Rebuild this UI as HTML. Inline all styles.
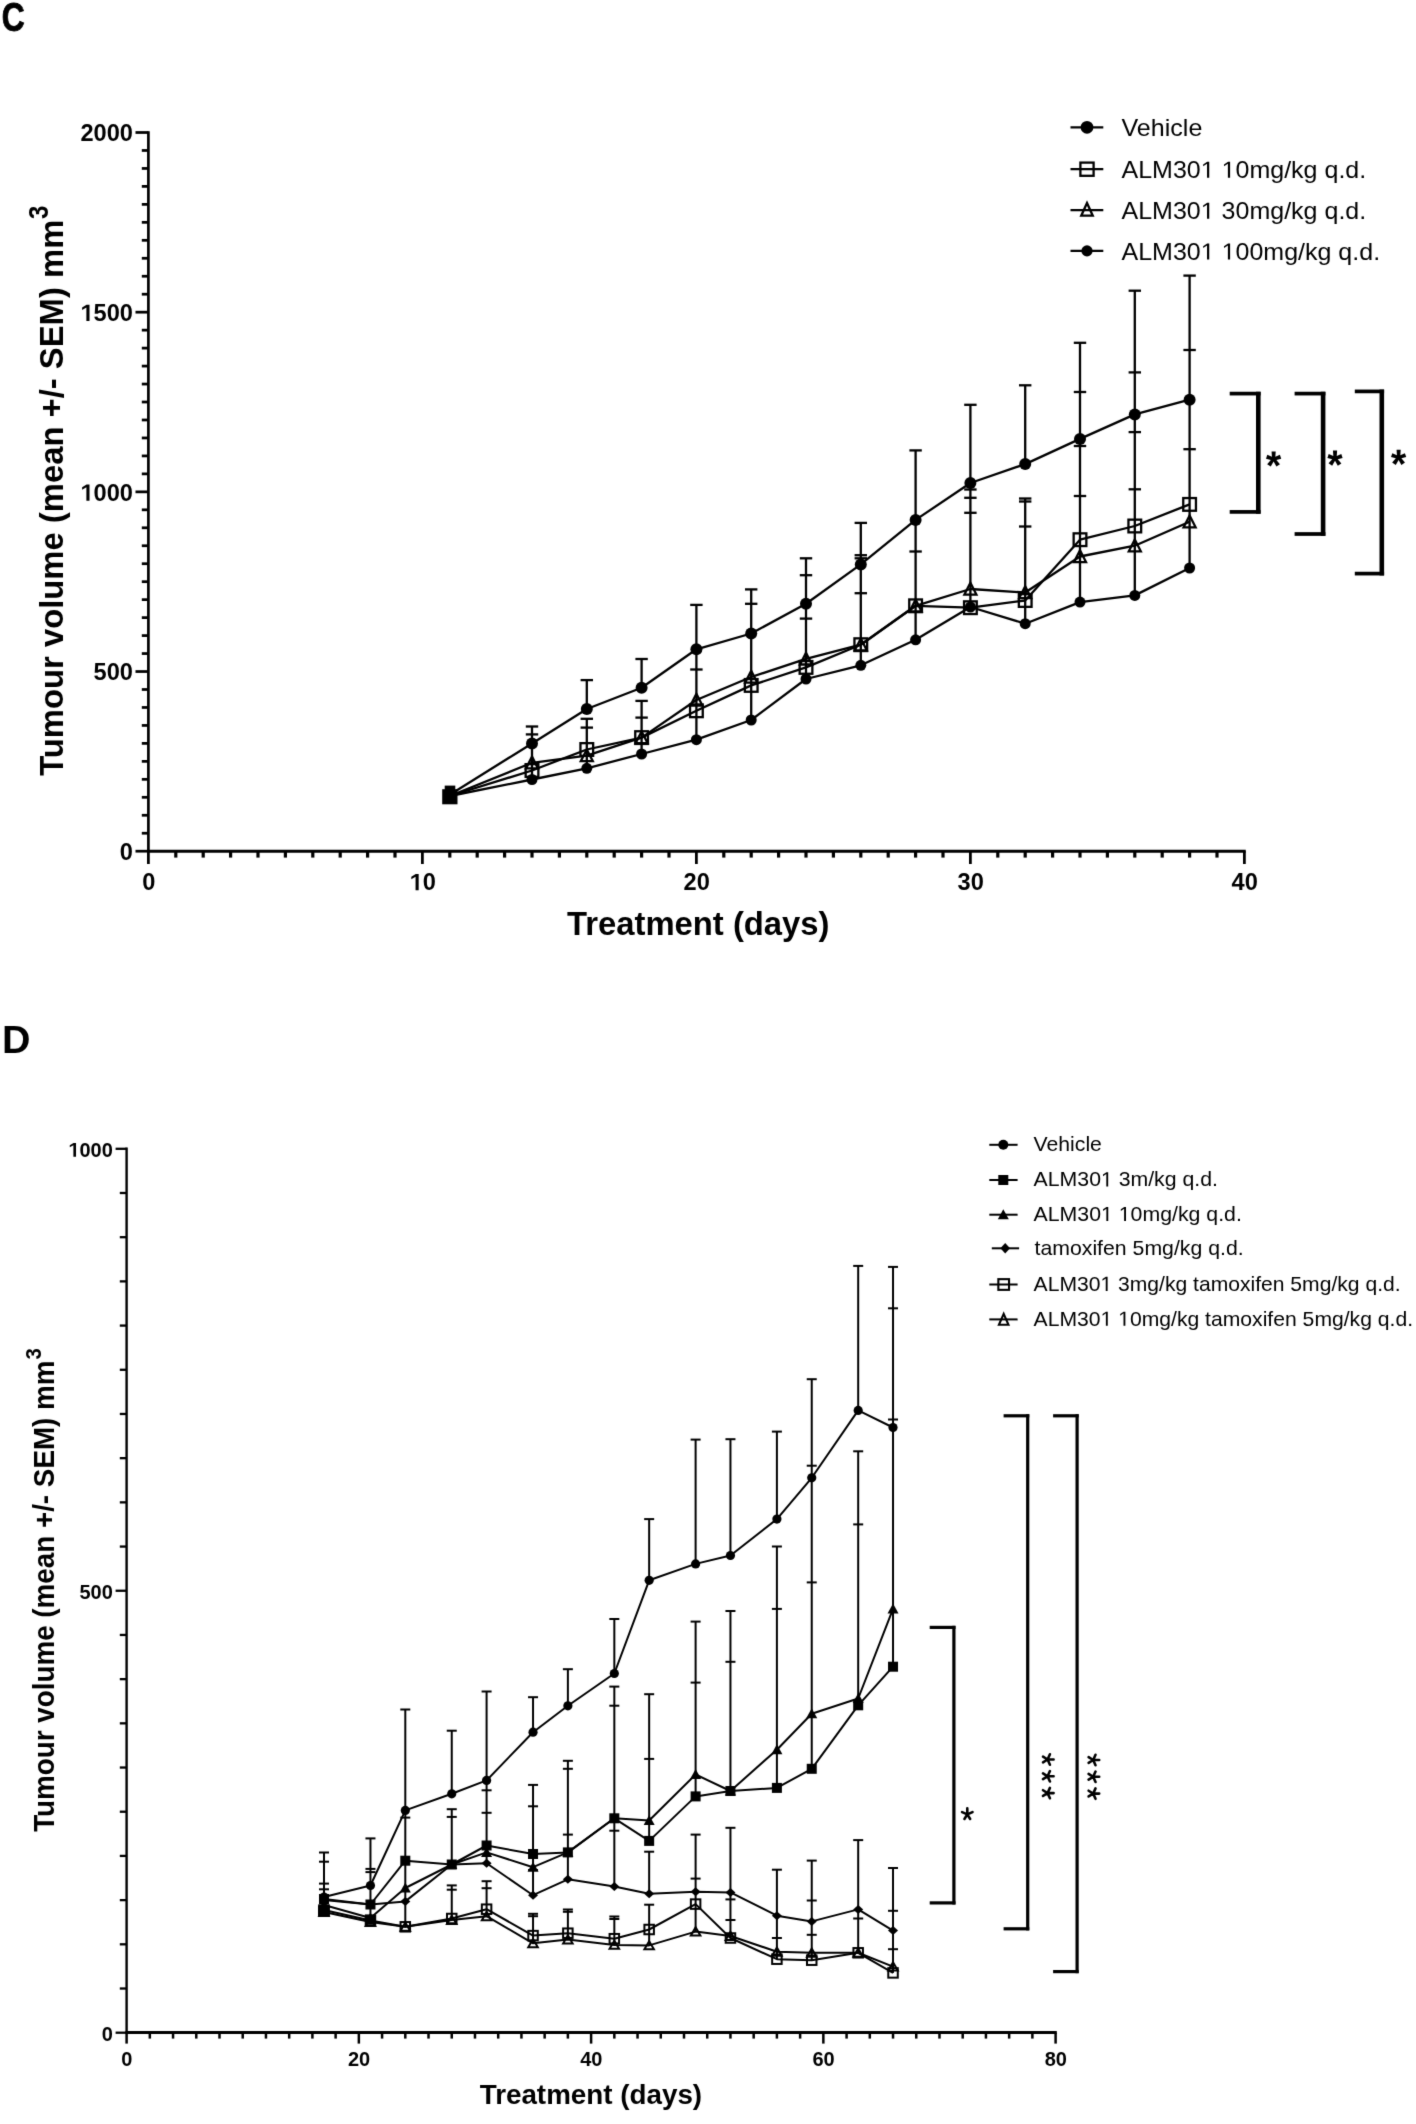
<!DOCTYPE html>
<html><head><meta charset="utf-8"><title>Tumour volume charts</title>
<style>html,body{margin:0;padding:0;background:#fff;}body{width:1416px;height:2124px;overflow:hidden;}svg{display:block;filter:grayscale(1);}text{font-family:"Liberation Sans",sans-serif;}</style>
</head><body>
<svg width="1416" height="2124" viewBox="0 0 1416 2124" font-family="Liberation Sans, sans-serif">
<defs><filter id="soft" x="0" y="0" width="1416" height="2124" filterUnits="userSpaceOnUse" color-interpolation-filters="sRGB"><feConvolveMatrix order="3" kernelMatrix="0.01134 0.08382 0.01134 0.08382 0.6194 0.08382 0.01134 0.08382 0.01134" divisor="1" edgeMode="duplicate" preserveAlpha="true"/></filter></defs>
<g filter="url(#soft)">
<rect width="1416" height="2124" fill="#fff"/>
<g stroke="#000" fill="none">
<line x1="148.4" y1="131.15" x2="148.4" y2="851.2" stroke-width="2.7"/>
<line x1="147.05" y1="851.2" x2="1245.75" y2="851.2" stroke-width="2.95"/>
<line x1="135.5" y1="851.2" x2="148.4" y2="851.2" stroke-width="2.75"/>
<line x1="141.8" y1="833.23" x2="148.4" y2="833.23" stroke-width="2.75"/>
<line x1="141.8" y1="815.27" x2="148.4" y2="815.27" stroke-width="2.75"/>
<line x1="141.8" y1="797.3" x2="148.4" y2="797.3" stroke-width="2.75"/>
<line x1="141.8" y1="779.33" x2="148.4" y2="779.33" stroke-width="2.75"/>
<line x1="141.8" y1="761.36" x2="148.4" y2="761.36" stroke-width="2.75"/>
<line x1="141.8" y1="743.39" x2="148.4" y2="743.39" stroke-width="2.75"/>
<line x1="141.8" y1="725.43" x2="148.4" y2="725.43" stroke-width="2.75"/>
<line x1="141.8" y1="707.46" x2="148.4" y2="707.46" stroke-width="2.75"/>
<line x1="141.8" y1="689.49" x2="148.4" y2="689.49" stroke-width="2.75"/>
<line x1="135.5" y1="671.53" x2="148.4" y2="671.53" stroke-width="2.75"/>
<line x1="141.8" y1="653.56" x2="148.4" y2="653.56" stroke-width="2.75"/>
<line x1="141.8" y1="635.59" x2="148.4" y2="635.59" stroke-width="2.75"/>
<line x1="141.8" y1="617.62" x2="148.4" y2="617.62" stroke-width="2.75"/>
<line x1="141.8" y1="599.65" x2="148.4" y2="599.65" stroke-width="2.75"/>
<line x1="141.8" y1="581.69" x2="148.4" y2="581.69" stroke-width="2.75"/>
<line x1="141.8" y1="563.72" x2="148.4" y2="563.72" stroke-width="2.75"/>
<line x1="141.8" y1="545.75" x2="148.4" y2="545.75" stroke-width="2.75"/>
<line x1="141.8" y1="527.79" x2="148.4" y2="527.79" stroke-width="2.75"/>
<line x1="141.8" y1="509.82" x2="148.4" y2="509.82" stroke-width="2.75"/>
<line x1="135.5" y1="491.85" x2="148.4" y2="491.85" stroke-width="2.75"/>
<line x1="141.8" y1="473.88" x2="148.4" y2="473.88" stroke-width="2.75"/>
<line x1="141.8" y1="455.92" x2="148.4" y2="455.92" stroke-width="2.75"/>
<line x1="141.8" y1="437.95" x2="148.4" y2="437.95" stroke-width="2.75"/>
<line x1="141.8" y1="419.98" x2="148.4" y2="419.98" stroke-width="2.75"/>
<line x1="141.8" y1="402.01" x2="148.4" y2="402.01" stroke-width="2.75"/>
<line x1="141.8" y1="384.05" x2="148.4" y2="384.05" stroke-width="2.75"/>
<line x1="141.8" y1="366.08" x2="148.4" y2="366.08" stroke-width="2.75"/>
<line x1="141.8" y1="348.11" x2="148.4" y2="348.11" stroke-width="2.75"/>
<line x1="141.8" y1="330.14" x2="148.4" y2="330.14" stroke-width="2.75"/>
<line x1="135.5" y1="312.18" x2="148.4" y2="312.18" stroke-width="2.75"/>
<line x1="141.8" y1="294.21" x2="148.4" y2="294.21" stroke-width="2.75"/>
<line x1="141.8" y1="276.24" x2="148.4" y2="276.24" stroke-width="2.75"/>
<line x1="141.8" y1="258.27" x2="148.4" y2="258.27" stroke-width="2.75"/>
<line x1="141.8" y1="240.31" x2="148.4" y2="240.31" stroke-width="2.75"/>
<line x1="141.8" y1="222.34" x2="148.4" y2="222.34" stroke-width="2.75"/>
<line x1="141.8" y1="204.37" x2="148.4" y2="204.37" stroke-width="2.75"/>
<line x1="141.8" y1="186.4" x2="148.4" y2="186.4" stroke-width="2.75"/>
<line x1="141.8" y1="168.44" x2="148.4" y2="168.44" stroke-width="2.75"/>
<line x1="141.8" y1="150.47" x2="148.4" y2="150.47" stroke-width="2.75"/>
<line x1="135.5" y1="132.5" x2="148.4" y2="132.5" stroke-width="2.75"/>
<line x1="148.4" y1="851.2" x2="148.4" y2="864" stroke-width="2.75"/>
<line x1="175.8" y1="851.2" x2="175.8" y2="857.6" stroke-width="3.2"/>
<line x1="203.2" y1="851.2" x2="203.2" y2="857.6" stroke-width="3.2"/>
<line x1="230.6" y1="851.2" x2="230.6" y2="857.6" stroke-width="3.2"/>
<line x1="258" y1="851.2" x2="258" y2="857.6" stroke-width="3.2"/>
<line x1="285.4" y1="851.2" x2="285.4" y2="857.6" stroke-width="3.2"/>
<line x1="312.8" y1="851.2" x2="312.8" y2="857.6" stroke-width="3.2"/>
<line x1="340.2" y1="851.2" x2="340.2" y2="857.6" stroke-width="3.2"/>
<line x1="367.6" y1="851.2" x2="367.6" y2="857.6" stroke-width="3.2"/>
<line x1="395" y1="851.2" x2="395" y2="857.6" stroke-width="3.2"/>
<line x1="422.4" y1="851.2" x2="422.4" y2="864" stroke-width="2.75"/>
<line x1="449.8" y1="851.2" x2="449.8" y2="857.6" stroke-width="3.2"/>
<line x1="477.2" y1="851.2" x2="477.2" y2="857.6" stroke-width="3.2"/>
<line x1="504.6" y1="851.2" x2="504.6" y2="857.6" stroke-width="3.2"/>
<line x1="532" y1="851.2" x2="532" y2="857.6" stroke-width="3.2"/>
<line x1="559.4" y1="851.2" x2="559.4" y2="857.6" stroke-width="3.2"/>
<line x1="586.8" y1="851.2" x2="586.8" y2="857.6" stroke-width="3.2"/>
<line x1="614.2" y1="851.2" x2="614.2" y2="857.6" stroke-width="3.2"/>
<line x1="641.6" y1="851.2" x2="641.6" y2="857.6" stroke-width="3.2"/>
<line x1="669" y1="851.2" x2="669" y2="857.6" stroke-width="3.2"/>
<line x1="696.4" y1="851.2" x2="696.4" y2="864" stroke-width="2.75"/>
<line x1="723.8" y1="851.2" x2="723.8" y2="857.6" stroke-width="3.2"/>
<line x1="751.2" y1="851.2" x2="751.2" y2="857.6" stroke-width="3.2"/>
<line x1="778.6" y1="851.2" x2="778.6" y2="857.6" stroke-width="3.2"/>
<line x1="806" y1="851.2" x2="806" y2="857.6" stroke-width="3.2"/>
<line x1="833.4" y1="851.2" x2="833.4" y2="857.6" stroke-width="3.2"/>
<line x1="860.8" y1="851.2" x2="860.8" y2="857.6" stroke-width="3.2"/>
<line x1="888.2" y1="851.2" x2="888.2" y2="857.6" stroke-width="3.2"/>
<line x1="915.6" y1="851.2" x2="915.6" y2="857.6" stroke-width="3.2"/>
<line x1="943" y1="851.2" x2="943" y2="857.6" stroke-width="3.2"/>
<line x1="970.4" y1="851.2" x2="970.4" y2="864" stroke-width="2.75"/>
<line x1="997.8" y1="851.2" x2="997.8" y2="857.6" stroke-width="3.2"/>
<line x1="1025.2" y1="851.2" x2="1025.2" y2="857.6" stroke-width="3.2"/>
<line x1="1052.6" y1="851.2" x2="1052.6" y2="857.6" stroke-width="3.2"/>
<line x1="1080" y1="851.2" x2="1080" y2="857.6" stroke-width="3.2"/>
<line x1="1107.4" y1="851.2" x2="1107.4" y2="857.6" stroke-width="3.2"/>
<line x1="1134.8" y1="851.2" x2="1134.8" y2="857.6" stroke-width="3.2"/>
<line x1="1162.2" y1="851.2" x2="1162.2" y2="857.6" stroke-width="3.2"/>
<line x1="1189.6" y1="851.2" x2="1189.6" y2="857.6" stroke-width="3.2"/>
<line x1="1217" y1="851.2" x2="1217" y2="857.6" stroke-width="3.2"/>
<line x1="1244.4" y1="851.2" x2="1244.4" y2="864" stroke-width="2.75"/>
</g>
<g fill="#000">
<text x="132.9" y="860.1" font-size="23.6" font-weight="bold" text-anchor="end">0</text>
<text x="132.9" y="680.43" font-size="23.6" font-weight="bold" text-anchor="end">500</text>
<text x="132.9" y="500.75" font-size="23.6" font-weight="bold" text-anchor="end"> 000</text><path transform="translate(80.4,500.75) scale(0.01152,-0.01152)" d="M520,0L520,1170L150,959L150,1180L535,1409L790,1409L790,0Z"/>
<text x="132.9" y="321.08" font-size="23.6" font-weight="bold" text-anchor="end"> 500</text><path transform="translate(80.4,321.08) scale(0.01152,-0.01152)" d="M520,0L520,1170L150,959L150,1180L535,1409L790,1409L790,0Z"/>
<text x="132.9" y="141.4" font-size="23.6" font-weight="bold" text-anchor="end">2000</text>
<text x="148.7" y="890.3" font-size="23.6" font-weight="bold" text-anchor="middle">0</text>
<text x="422.7" y="890.3" font-size="23.6" font-weight="bold" text-anchor="middle"> 0</text><path transform="translate(409.57,890.3) scale(0.01152,-0.01152)" d="M520,0L520,1170L150,959L150,1180L535,1409L790,1409L790,0Z"/>
<text x="696.7" y="890.3" font-size="23.6" font-weight="bold" text-anchor="middle">20</text>
<text x="970.7" y="890.3" font-size="23.6" font-weight="bold" text-anchor="middle">30</text>
<text x="1244.7" y="890.3" font-size="23.6" font-weight="bold" text-anchor="middle">40</text>
<text x="567" y="935" font-size="33" font-weight="bold" textLength="262.5" lengthAdjust="spacingAndGlyphs">Treatment (days)</text>
<text transform="translate(62.8,775.8) rotate(-90)" font-size="33.5" font-weight="bold" textLength="556.1" lengthAdjust="spacingAndGlyphs">Tumour volume (mean +/- SEM) mm</text>
<text transform="translate(47.8,219) rotate(-90)" font-size="26.8" font-weight="bold" textLength="13.41" lengthAdjust="spacingAndGlyphs">3</text>
<text stroke="#000" stroke-width="0.9" x="1.7" y="30.8" font-size="40.2" font-weight="bold" textLength="22.93" lengthAdjust="spacingAndGlyphs">C</text>
<text x="1.9" y="1053" font-size="39.4" font-weight="bold">D</text>
</g>
<g stroke="#000" stroke-width="2.3" fill="none" stroke-linecap="butt">
<line x1="532" y1="726.5" x2="532" y2="779.5"/>
<line x1="525.8" y1="726.5" x2="538.2" y2="726.5"/>
<line x1="525.8" y1="734.4" x2="538.2" y2="734.4"/>
<line x1="586.8" y1="680.1" x2="586.8" y2="709"/>
<line x1="586.8" y1="718.8" x2="586.8" y2="768.3"/>
<line x1="580.6" y1="680.1" x2="593" y2="680.1"/>
<line x1="580.6" y1="718.8" x2="593" y2="718.8"/>
<line x1="580.6" y1="727.6" x2="593" y2="727.6"/>
<line x1="641.6" y1="659" x2="641.6" y2="687.8"/>
<line x1="641.6" y1="700.9" x2="641.6" y2="754"/>
<line x1="635.4" y1="659" x2="647.8" y2="659"/>
<line x1="635.4" y1="700.9" x2="647.8" y2="700.9"/>
<line x1="635.4" y1="717.6" x2="647.8" y2="717.6"/>
<line x1="696.4" y1="604.9" x2="696.4" y2="739.7"/>
<line x1="690.2" y1="604.9" x2="702.6" y2="604.9"/>
<line x1="690.2" y1="669.5" x2="702.6" y2="669.5"/>
<line x1="751.2" y1="589.4" x2="751.2" y2="720"/>
<line x1="745" y1="589.4" x2="757.4" y2="589.4"/>
<line x1="745" y1="603.8" x2="757.4" y2="603.8"/>
<line x1="806" y1="558.3" x2="806" y2="679"/>
<line x1="799.8" y1="558.3" x2="812.2" y2="558.3"/>
<line x1="799.8" y1="575.2" x2="812.2" y2="575.2"/>
<line x1="799.8" y1="618.6" x2="812.2" y2="618.6"/>
<line x1="860.8" y1="522.9" x2="860.8" y2="665.3"/>
<line x1="854.6" y1="522.9" x2="867" y2="522.9"/>
<line x1="854.6" y1="555.2" x2="867" y2="555.2"/>
<line x1="854.6" y1="558.3" x2="867" y2="558.3"/>
<line x1="854.6" y1="593.2" x2="867" y2="593.2"/>
<line x1="915.6" y1="450.4" x2="915.6" y2="639.8"/>
<line x1="909.4" y1="450.4" x2="921.8" y2="450.4"/>
<line x1="909.4" y1="551.5" x2="921.8" y2="551.5"/>
<line x1="970.4" y1="404.8" x2="970.4" y2="607.7"/>
<line x1="964.2" y1="404.8" x2="976.6" y2="404.8"/>
<line x1="964.2" y1="489.5" x2="976.6" y2="489.5"/>
<line x1="964.2" y1="497.8" x2="976.6" y2="497.8"/>
<line x1="964.2" y1="512.8" x2="976.6" y2="512.8"/>
<line x1="1025.2" y1="385.3" x2="1025.2" y2="464.1"/>
<line x1="1025.2" y1="498.5" x2="1025.2" y2="623.7"/>
<line x1="1019" y1="385.3" x2="1031.4" y2="385.3"/>
<line x1="1019" y1="498.5" x2="1031.4" y2="498.5"/>
<line x1="1019" y1="501.5" x2="1031.4" y2="501.5"/>
<line x1="1019" y1="526.5" x2="1031.4" y2="526.5"/>
<line x1="1080" y1="342.8" x2="1080" y2="602.1"/>
<line x1="1073.8" y1="342.8" x2="1086.2" y2="342.8"/>
<line x1="1073.8" y1="392" x2="1086.2" y2="392"/>
<line x1="1073.8" y1="446" x2="1086.2" y2="446"/>
<line x1="1073.8" y1="496" x2="1086.2" y2="496"/>
<line x1="1134.8" y1="290.7" x2="1134.8" y2="595.4"/>
<line x1="1128.6" y1="290.7" x2="1141" y2="290.7"/>
<line x1="1128.6" y1="372.4" x2="1141" y2="372.4"/>
<line x1="1128.6" y1="432.1" x2="1141" y2="432.1"/>
<line x1="1128.6" y1="489.3" x2="1141" y2="489.3"/>
<line x1="1189.6" y1="275.6" x2="1189.6" y2="568"/>
<line x1="1183.4" y1="275.6" x2="1195.8" y2="275.6"/>
<line x1="1183.4" y1="350" x2="1195.8" y2="350"/>
<line x1="1183.4" y1="449.2" x2="1195.8" y2="449.2"/>
</g>
<g stroke="#000" stroke-width="2.3" fill="none" stroke-linejoin="round">
<polyline points="449.8,794.8 532,743.5 586.8,709 641.6,687.8 696.4,649.3 751.2,633.5 806,603.8 860.8,564.4 915.6,519.9 970.4,483 1025.2,464.1 1080,438.9 1134.8,414.4 1189.6,399.7"/>
<polyline points="449.8,796 532,770.5 586.8,749.5 641.6,737.6 696.4,710.8 751.2,685.4 806,667.4 860.8,644.7 915.6,605.8 970.4,607.7 1025.2,600.5 1080,539.7 1134.8,526 1189.6,504.4"/>
<polyline points="449.8,796 532,762.8 586.8,755.6 641.6,737.6 696.4,700 751.2,677 806,658.9 860.8,644.7 915.6,605.8 970.4,589 1025.2,592.5 1080,556.5 1134.8,545.7 1189.6,521.7"/>
<polyline points="449.8,796 532,779.5 586.8,768.3 641.6,754 696.4,739.7 751.2,720 806,679 860.8,665.3 915.6,639.8 970.4,607 1025.2,623.7 1080,602.1 1134.8,595.4 1189.6,568"/>
</g>
<rect x="442.2" y="789.2" width="15.3" height="15.1" fill="#000"/>
<rect x="444.7" y="785.6" width="10.6" height="5" fill="#000"/>
<rect x="525.65" y="764.15" width="12.7" height="12.7" fill="none" stroke="#000" stroke-width="2.3"/>
<polygon points="532,756.62 538,768.4 526,768.4" fill="none" stroke="#000" stroke-width="2.3" stroke-linejoin="miter"/>
<circle cx="532" cy="779.5" r="5.5" fill="#000"/>
<circle cx="532" cy="743.5" r="6.0" fill="#000"/>
<rect x="580.45" y="743.15" width="12.7" height="12.7" fill="none" stroke="#000" stroke-width="2.3"/>
<polygon points="586.8,749.42 592.8,761.2 580.8,761.2" fill="none" stroke="#000" stroke-width="2.3" stroke-linejoin="miter"/>
<circle cx="586.8" cy="768.3" r="5.5" fill="#000"/>
<circle cx="586.8" cy="709" r="6.0" fill="#000"/>
<rect x="635.25" y="731.25" width="12.7" height="12.7" fill="none" stroke="#000" stroke-width="2.3"/>
<polygon points="641.6,731.42 647.6,743.2 635.6,743.2" fill="none" stroke="#000" stroke-width="2.3" stroke-linejoin="miter"/>
<circle cx="641.6" cy="754" r="5.5" fill="#000"/>
<circle cx="641.6" cy="687.8" r="6.0" fill="#000"/>
<rect x="690.05" y="704.45" width="12.7" height="12.7" fill="none" stroke="#000" stroke-width="2.3"/>
<polygon points="696.4,693.82 702.4,705.6 690.4,705.6" fill="none" stroke="#000" stroke-width="2.3" stroke-linejoin="miter"/>
<circle cx="696.4" cy="739.7" r="5.5" fill="#000"/>
<circle cx="696.4" cy="649.3" r="6.0" fill="#000"/>
<rect x="744.85" y="679.05" width="12.7" height="12.7" fill="none" stroke="#000" stroke-width="2.3"/>
<polygon points="751.2,670.82 757.2,682.6 745.2,682.6" fill="none" stroke="#000" stroke-width="2.3" stroke-linejoin="miter"/>
<circle cx="751.2" cy="720" r="5.5" fill="#000"/>
<circle cx="751.2" cy="633.5" r="6.0" fill="#000"/>
<rect x="799.65" y="661.05" width="12.7" height="12.7" fill="none" stroke="#000" stroke-width="2.3"/>
<polygon points="806,652.72 812,664.5 800,664.5" fill="none" stroke="#000" stroke-width="2.3" stroke-linejoin="miter"/>
<circle cx="806" cy="679" r="5.5" fill="#000"/>
<circle cx="806" cy="603.8" r="6.0" fill="#000"/>
<rect x="854.45" y="638.35" width="12.7" height="12.7" fill="none" stroke="#000" stroke-width="2.3"/>
<polygon points="860.8,638.52 866.8,650.3 854.8,650.3" fill="none" stroke="#000" stroke-width="2.3" stroke-linejoin="miter"/>
<circle cx="860.8" cy="665.3" r="5.5" fill="#000"/>
<circle cx="860.8" cy="564.4" r="6.0" fill="#000"/>
<rect x="909.25" y="599.45" width="12.7" height="12.7" fill="none" stroke="#000" stroke-width="2.3"/>
<polygon points="915.6,599.62 921.6,611.4 909.6,611.4" fill="none" stroke="#000" stroke-width="2.3" stroke-linejoin="miter"/>
<circle cx="915.6" cy="639.8" r="5.5" fill="#000"/>
<circle cx="915.6" cy="519.9" r="6.0" fill="#000"/>
<rect x="964.05" y="601.35" width="12.7" height="12.7" fill="none" stroke="#000" stroke-width="2.3"/>
<polygon points="970.4,582.82 976.4,594.6 964.4,594.6" fill="none" stroke="#000" stroke-width="2.3" stroke-linejoin="miter"/>
<circle cx="970.4" cy="607" r="5.5" fill="#000"/>
<circle cx="970.4" cy="483" r="6.0" fill="#000"/>
<rect x="1018.85" y="594.15" width="12.7" height="12.7" fill="none" stroke="#000" stroke-width="2.3"/>
<polygon points="1025.2,586.32 1031.2,598.1 1019.2,598.1" fill="none" stroke="#000" stroke-width="2.3" stroke-linejoin="miter"/>
<circle cx="1025.2" cy="623.7" r="5.5" fill="#000"/>
<circle cx="1025.2" cy="464.1" r="6.0" fill="#000"/>
<rect x="1073.65" y="533.35" width="12.7" height="12.7" fill="none" stroke="#000" stroke-width="2.3"/>
<polygon points="1080,550.32 1086,562.1 1074,562.1" fill="none" stroke="#000" stroke-width="2.3" stroke-linejoin="miter"/>
<circle cx="1080" cy="602.1" r="5.5" fill="#000"/>
<circle cx="1080" cy="438.9" r="6.0" fill="#000"/>
<rect x="1128.45" y="519.65" width="12.7" height="12.7" fill="none" stroke="#000" stroke-width="2.3"/>
<polygon points="1134.8,539.52 1140.8,551.3 1128.8,551.3" fill="none" stroke="#000" stroke-width="2.3" stroke-linejoin="miter"/>
<circle cx="1134.8" cy="595.4" r="5.5" fill="#000"/>
<circle cx="1134.8" cy="414.4" r="6.0" fill="#000"/>
<rect x="1183.25" y="498.05" width="12.7" height="12.7" fill="none" stroke="#000" stroke-width="2.3"/>
<polygon points="1189.6,515.52 1195.6,527.3 1183.6,527.3" fill="none" stroke="#000" stroke-width="2.3" stroke-linejoin="miter"/>
<circle cx="1189.6" cy="568" r="5.5" fill="#000"/>
<circle cx="1189.6" cy="399.7" r="6.0" fill="#000"/>
<rect x="1229.7" y="391.75" width="30.9" height="3.7" fill="#000"/><rect x="1229.7" y="510.05" width="30.9" height="3.7" fill="#000"/><rect x="1256" y="391.75" width="4.6" height="122" fill="#000"/>
<rect x="1294.6" y="391.75" width="30.8" height="3.7" fill="#000"/><rect x="1294.6" y="532.15" width="30.8" height="3.7" fill="#000"/><rect x="1320.8" y="391.75" width="4.6" height="144.1" fill="#000"/>
<rect x="1354.8" y="389.55" width="29.3" height="3.7" fill="#000"/><rect x="1354.8" y="571.75" width="29.3" height="3.7" fill="#000"/><rect x="1379.5" y="389.55" width="4.6" height="185.9" fill="#000"/>
<polygon points="1275.36,456.87 1279.89,454.79 1281.2,458.72 1276.38,459.94 1279.97,464.19 1276.42,466.6 1273.61,461.57 1270.74,466.6 1267.16,464.15 1270.82,459.94 1266,458.72 1267.31,454.79 1271.91,456.87 1271.57,451.4 1275.71,451.4" fill="#000"/>
<polygon points="1336.76,456.07 1341.29,453.99 1342.6,457.92 1337.78,459.14 1341.37,463.39 1337.82,465.8 1335.01,460.77 1332.14,465.8 1328.56,463.35 1332.22,459.14 1327.4,457.92 1328.71,453.99 1333.31,456.07 1332.97,450.6 1337.11,450.6" fill="#000"/>
<polygon points="1400.36,455.27 1404.89,453.19 1406.2,457.12 1401.38,458.34 1404.97,462.59 1401.42,465 1398.61,459.97 1395.74,465 1392.16,462.55 1395.82,458.34 1391,457.12 1392.31,453.19 1396.91,455.27 1396.57,449.8 1400.71,449.8" fill="#000"/>
<line x1="1070.5" y1="127.3" x2="1103.3" y2="127.3" stroke="#000" stroke-width="2.2"/>
<circle cx="1087" cy="127.3" r="6.4" fill="#000"/>
<text x="1121.5" y="135.9" font-size="23.2" textLength="80.87" lengthAdjust="spacingAndGlyphs">Vehicle</text>
<line x1="1070.5" y1="169.2" x2="1103.3" y2="169.2" stroke="#000" stroke-width="2.2"/>
<rect x="1080.4" y="162.6" width="13.2" height="13.2" fill="none" stroke="#000" stroke-width="2.3"/>
<text x="1121.5" y="177.8" font-size="23.2" textLength="244.69" lengthAdjust="spacingAndGlyphs">ALM30   0mg/kg q.d.</text><path transform="translate(1200.74,177.8) scale(0.01221,-0.01133)" d="M515,0L515,1237L197,1010L197,1180L530,1409L696,1409L696,0Z"/><path transform="translate(1221.6,177.8) scale(0.01221,-0.01133)" d="M515,0L515,1237L197,1010L197,1180L530,1409L696,1409L696,0Z"/>
<line x1="1070.5" y1="210.2" x2="1103.3" y2="210.2" stroke="#000" stroke-width="2.2"/>
<polygon points="1087,203.08 1092.75,215.66 1081.25,215.66" fill="none" stroke="#000" stroke-width="2.3" stroke-linejoin="miter"/>
<text x="1121.5" y="218.8" font-size="23.2" textLength="244.69" lengthAdjust="spacingAndGlyphs">ALM30  30mg/kg q.d.</text><path transform="translate(1200.74,218.8) scale(0.01221,-0.01133)" d="M515,0L515,1237L197,1010L197,1180L530,1409L696,1409L696,0Z"/>
<line x1="1070.5" y1="250.9" x2="1103.3" y2="250.9" stroke="#000" stroke-width="2.2"/>
<circle cx="1087" cy="250.9" r="5.6" fill="#000"/>
<text x="1121.5" y="259.5" font-size="23.2" textLength="258.6" lengthAdjust="spacingAndGlyphs">ALM30   00mg/kg q.d.</text><path transform="translate(1200.74,259.5) scale(0.01221,-0.01133)" d="M515,0L515,1237L197,1010L197,1180L530,1409L696,1409L696,0Z"/><path transform="translate(1221.6,259.5) scale(0.01221,-0.01133)" d="M515,0L515,1237L197,1010L197,1180L530,1409L696,1409L696,0Z"/>
<g stroke="#000" fill="none">
<line x1="126.6" y1="1147.6" x2="126.6" y2="2032.7" stroke-width="2.4"/>
<line x1="125.39999999999999" y1="2032.5" x2="1056.8" y2="2032.5" stroke-width="2.8"/>
<line x1="115.6" y1="2032.7" x2="126.6" y2="2032.7" stroke-width="2.3"/>
<line x1="119.8" y1="1988.51" x2="126.6" y2="1988.51" stroke-width="2.3"/>
<line x1="119.8" y1="1944.31" x2="126.6" y2="1944.31" stroke-width="2.3"/>
<line x1="119.8" y1="1900.12" x2="126.6" y2="1900.12" stroke-width="2.3"/>
<line x1="119.8" y1="1855.92" x2="126.6" y2="1855.92" stroke-width="2.3"/>
<line x1="119.8" y1="1811.73" x2="126.6" y2="1811.73" stroke-width="2.3"/>
<line x1="119.8" y1="1767.53" x2="126.6" y2="1767.53" stroke-width="2.3"/>
<line x1="119.8" y1="1723.34" x2="126.6" y2="1723.34" stroke-width="2.3"/>
<line x1="119.8" y1="1679.14" x2="126.6" y2="1679.14" stroke-width="2.3"/>
<line x1="119.8" y1="1634.95" x2="126.6" y2="1634.95" stroke-width="2.3"/>
<line x1="115.6" y1="1590.75" x2="126.6" y2="1590.75" stroke-width="2.3"/>
<line x1="119.8" y1="1546.56" x2="126.6" y2="1546.56" stroke-width="2.3"/>
<line x1="119.8" y1="1502.36" x2="126.6" y2="1502.36" stroke-width="2.3"/>
<line x1="119.8" y1="1458.16" x2="126.6" y2="1458.16" stroke-width="2.3"/>
<line x1="119.8" y1="1413.97" x2="126.6" y2="1413.97" stroke-width="2.3"/>
<line x1="119.8" y1="1369.78" x2="126.6" y2="1369.78" stroke-width="2.3"/>
<line x1="119.8" y1="1325.58" x2="126.6" y2="1325.58" stroke-width="2.3"/>
<line x1="119.8" y1="1281.38" x2="126.6" y2="1281.38" stroke-width="2.3"/>
<line x1="119.8" y1="1237.19" x2="126.6" y2="1237.19" stroke-width="2.3"/>
<line x1="119.8" y1="1192.99" x2="126.6" y2="1192.99" stroke-width="2.3"/>
<line x1="115.6" y1="1148.8" x2="126.6" y2="1148.8" stroke-width="2.3"/>
<line x1="126.6" y1="2032.7" x2="126.6" y2="2043.6" stroke-width="2.5"/>
<line x1="149.82" y1="2032.7" x2="149.82" y2="2038.6" stroke-width="2.5"/>
<line x1="173.05" y1="2032.7" x2="173.05" y2="2038.6" stroke-width="2.5"/>
<line x1="196.28" y1="2032.7" x2="196.28" y2="2038.6" stroke-width="2.5"/>
<line x1="219.5" y1="2032.7" x2="219.5" y2="2038.6" stroke-width="2.5"/>
<line x1="242.72" y1="2032.7" x2="242.72" y2="2038.6" stroke-width="2.5"/>
<line x1="265.95" y1="2032.7" x2="265.95" y2="2038.6" stroke-width="2.5"/>
<line x1="289.18" y1="2032.7" x2="289.18" y2="2038.6" stroke-width="2.5"/>
<line x1="312.4" y1="2032.7" x2="312.4" y2="2038.6" stroke-width="2.5"/>
<line x1="335.62" y1="2032.7" x2="335.62" y2="2038.6" stroke-width="2.5"/>
<line x1="358.85" y1="2032.7" x2="358.85" y2="2043.6" stroke-width="2.5"/>
<line x1="382.08" y1="2032.7" x2="382.08" y2="2038.6" stroke-width="2.5"/>
<line x1="405.3" y1="2032.7" x2="405.3" y2="2038.6" stroke-width="2.5"/>
<line x1="428.52" y1="2032.7" x2="428.52" y2="2038.6" stroke-width="2.5"/>
<line x1="451.75" y1="2032.7" x2="451.75" y2="2038.6" stroke-width="2.5"/>
<line x1="474.98" y1="2032.7" x2="474.98" y2="2038.6" stroke-width="2.5"/>
<line x1="498.2" y1="2032.7" x2="498.2" y2="2038.6" stroke-width="2.5"/>
<line x1="521.43" y1="2032.7" x2="521.43" y2="2038.6" stroke-width="2.5"/>
<line x1="544.65" y1="2032.7" x2="544.65" y2="2038.6" stroke-width="2.5"/>
<line x1="567.88" y1="2032.7" x2="567.88" y2="2038.6" stroke-width="2.5"/>
<line x1="591.1" y1="2032.7" x2="591.1" y2="2043.6" stroke-width="2.5"/>
<line x1="614.33" y1="2032.7" x2="614.33" y2="2038.6" stroke-width="2.5"/>
<line x1="637.55" y1="2032.7" x2="637.55" y2="2038.6" stroke-width="2.5"/>
<line x1="660.78" y1="2032.7" x2="660.78" y2="2038.6" stroke-width="2.5"/>
<line x1="684" y1="2032.7" x2="684" y2="2038.6" stroke-width="2.5"/>
<line x1="707.23" y1="2032.7" x2="707.23" y2="2038.6" stroke-width="2.5"/>
<line x1="730.45" y1="2032.7" x2="730.45" y2="2038.6" stroke-width="2.5"/>
<line x1="753.68" y1="2032.7" x2="753.68" y2="2038.6" stroke-width="2.5"/>
<line x1="776.9" y1="2032.7" x2="776.9" y2="2038.6" stroke-width="2.5"/>
<line x1="800.13" y1="2032.7" x2="800.13" y2="2038.6" stroke-width="2.5"/>
<line x1="823.35" y1="2032.7" x2="823.35" y2="2043.6" stroke-width="2.5"/>
<line x1="846.58" y1="2032.7" x2="846.58" y2="2038.6" stroke-width="2.5"/>
<line x1="869.8" y1="2032.7" x2="869.8" y2="2038.6" stroke-width="2.5"/>
<line x1="893.03" y1="2032.7" x2="893.03" y2="2038.6" stroke-width="2.5"/>
<line x1="916.25" y1="2032.7" x2="916.25" y2="2038.6" stroke-width="2.5"/>
<line x1="939.48" y1="2032.7" x2="939.48" y2="2038.6" stroke-width="2.5"/>
<line x1="962.7" y1="2032.7" x2="962.7" y2="2038.6" stroke-width="2.5"/>
<line x1="985.93" y1="2032.7" x2="985.93" y2="2038.6" stroke-width="2.5"/>
<line x1="1009.15" y1="2032.7" x2="1009.15" y2="2038.6" stroke-width="2.5"/>
<line x1="1032.38" y1="2032.7" x2="1032.38" y2="2038.6" stroke-width="2.5"/>
<line x1="1055.6" y1="2032.7" x2="1055.6" y2="2043.6" stroke-width="2.5"/>
</g>
<g fill="#000">
<text x="112.8" y="2040.6" font-size="20" font-weight="bold" text-anchor="end">0</text>
<text x="112.8" y="1598.65" font-size="20" font-weight="bold" text-anchor="end">500</text>
<text x="112.8" y="1156.7" font-size="20" font-weight="bold" text-anchor="end"> 000</text><path transform="translate(68.31,1156.7) scale(0.00977,-0.00977)" d="M520,0L520,1170L150,959L150,1180L535,1409L790,1409L790,0Z"/>
<text x="126.8" y="2065.9" font-size="20" font-weight="bold" text-anchor="middle">0</text>
<text x="359.05" y="2065.9" font-size="20" font-weight="bold" text-anchor="middle">20</text>
<text x="591.3" y="2065.9" font-size="20" font-weight="bold" text-anchor="middle">40</text>
<text x="823.55" y="2065.9" font-size="20" font-weight="bold" text-anchor="middle">60</text>
<text x="1055.8" y="2065.9" font-size="20" font-weight="bold" text-anchor="middle">80</text>
<text x="479.7" y="2104.4" font-size="27.8" font-weight="bold">Treatment (days)</text>
<text transform="translate(53.9,1831.8) rotate(-90)" font-size="29.6" font-weight="bold" textLength="471.28" lengthAdjust="spacingAndGlyphs">Tumour volume (mean +/- SEM) mm</text>
<text transform="translate(40.7,1359.6) rotate(-90)" font-size="22.6" font-weight="bold" textLength="11.31" lengthAdjust="spacingAndGlyphs">3</text>
</g>
<g stroke="#000" stroke-width="2.0" fill="none">
<line x1="324.01" y1="1852.5" x2="324.01" y2="1905"/>
<line x1="319.01" y1="1852.5" x2="329.01" y2="1852.5"/>
<line x1="319.01" y1="1861.7" x2="329.01" y2="1861.7"/>
<line x1="319.01" y1="1883.6" x2="329.01" y2="1883.6"/>
<line x1="319.01" y1="1889.3" x2="329.01" y2="1889.3"/>
<line x1="370.46" y1="1838.4" x2="370.46" y2="1920.4"/>
<line x1="365.46" y1="1838.4" x2="375.46" y2="1838.4"/>
<line x1="365.46" y1="1868.9" x2="375.46" y2="1868.9"/>
<line x1="365.46" y1="1872.1" x2="375.46" y2="1872.1"/>
<line x1="405.3" y1="1709.5" x2="405.3" y2="1926.8"/>
<line x1="400.3" y1="1709.5" x2="410.3" y2="1709.5"/>
<line x1="400.3" y1="1817.6" x2="410.3" y2="1817.6"/>
<line x1="451.75" y1="1730.7" x2="451.75" y2="1793.8"/>
<line x1="451.75" y1="1809.2" x2="451.75" y2="1864.5"/>
<line x1="451.75" y1="1885.4" x2="451.75" y2="1918.5"/>
<line x1="446.75" y1="1730.7" x2="456.75" y2="1730.7"/>
<line x1="446.75" y1="1809.2" x2="456.75" y2="1809.2"/>
<line x1="446.75" y1="1816.9" x2="456.75" y2="1816.9"/>
<line x1="446.75" y1="1885.4" x2="456.75" y2="1885.4"/>
<line x1="446.75" y1="1889.7" x2="456.75" y2="1889.7"/>
<line x1="486.59" y1="1691.5" x2="486.59" y2="1863.3"/>
<line x1="486.59" y1="1881.2" x2="486.59" y2="1916.2"/>
<line x1="481.59" y1="1691.5" x2="491.59" y2="1691.5"/>
<line x1="481.59" y1="1790.3" x2="491.59" y2="1790.3"/>
<line x1="481.59" y1="1812.8" x2="491.59" y2="1812.8"/>
<line x1="481.59" y1="1881.2" x2="491.59" y2="1881.2"/>
<line x1="481.59" y1="1888.2" x2="491.59" y2="1888.2"/>
<line x1="533.04" y1="1697.2" x2="533.04" y2="1732.2"/>
<line x1="533.04" y1="1784.9" x2="533.04" y2="1895.2"/>
<line x1="533.04" y1="1913.8" x2="533.04" y2="1943.3"/>
<line x1="528.04" y1="1697.2" x2="538.04" y2="1697.2"/>
<line x1="528.04" y1="1784.9" x2="538.04" y2="1784.9"/>
<line x1="528.04" y1="1806.3" x2="538.04" y2="1806.3"/>
<line x1="528.04" y1="1870" x2="538.04" y2="1870"/>
<line x1="528.04" y1="1913.8" x2="538.04" y2="1913.8"/>
<line x1="528.04" y1="1916.2" x2="538.04" y2="1916.2"/>
<line x1="567.88" y1="1669.2" x2="567.88" y2="1705.8"/>
<line x1="567.88" y1="1760.8" x2="567.88" y2="1879.3"/>
<line x1="567.88" y1="1909.5" x2="567.88" y2="1939.5"/>
<line x1="562.88" y1="1669.2" x2="572.88" y2="1669.2"/>
<line x1="562.88" y1="1760.8" x2="572.88" y2="1760.8"/>
<line x1="562.88" y1="1768.8" x2="572.88" y2="1768.8"/>
<line x1="562.88" y1="1834.6" x2="572.88" y2="1834.6"/>
<line x1="562.88" y1="1909.5" x2="572.88" y2="1909.5"/>
<line x1="562.88" y1="1911.8" x2="572.88" y2="1911.8"/>
<line x1="614.33" y1="1619" x2="614.33" y2="1673.5"/>
<line x1="614.33" y1="1686.6" x2="614.33" y2="1886.6"/>
<line x1="614.33" y1="1916.5" x2="614.33" y2="1944.9"/>
<line x1="609.33" y1="1619" x2="619.33" y2="1619"/>
<line x1="609.33" y1="1686.6" x2="619.33" y2="1686.6"/>
<line x1="609.33" y1="1705.7" x2="619.33" y2="1705.7"/>
<line x1="609.33" y1="1830.7" x2="619.33" y2="1830.7"/>
<line x1="609.33" y1="1916.5" x2="619.33" y2="1916.5"/>
<line x1="609.33" y1="1919" x2="619.33" y2="1919"/>
<line x1="649.16" y1="1519.1" x2="649.16" y2="1580.3"/>
<line x1="649.16" y1="1694.2" x2="649.16" y2="1840.9"/>
<line x1="649.16" y1="1851.7" x2="649.16" y2="1893.8"/>
<line x1="649.16" y1="1904.7" x2="649.16" y2="1945.4"/>
<line x1="644.16" y1="1519.1" x2="654.16" y2="1519.1"/>
<line x1="644.16" y1="1694.2" x2="654.16" y2="1694.2"/>
<line x1="644.16" y1="1758.9" x2="654.16" y2="1758.9"/>
<line x1="644.16" y1="1851.7" x2="654.16" y2="1851.7"/>
<line x1="644.16" y1="1904.7" x2="654.16" y2="1904.7"/>
<line x1="695.61" y1="1439.6" x2="695.61" y2="1563.9"/>
<line x1="695.61" y1="1621.6" x2="695.61" y2="1796.4"/>
<line x1="695.61" y1="1834.6" x2="695.61" y2="1931.6"/>
<line x1="690.61" y1="1439.6" x2="700.61" y2="1439.6"/>
<line x1="690.61" y1="1621.6" x2="700.61" y2="1621.6"/>
<line x1="690.61" y1="1682.6" x2="700.61" y2="1682.6"/>
<line x1="690.61" y1="1834.6" x2="700.61" y2="1834.6"/>
<line x1="690.61" y1="1878.6" x2="700.61" y2="1878.6"/>
<line x1="730.45" y1="1439.2" x2="730.45" y2="1555.5"/>
<line x1="730.45" y1="1611" x2="730.45" y2="1791"/>
<line x1="730.45" y1="1827.8" x2="730.45" y2="1938"/>
<line x1="725.45" y1="1439.2" x2="735.45" y2="1439.2"/>
<line x1="725.45" y1="1611" x2="735.45" y2="1611"/>
<line x1="725.45" y1="1661.8" x2="735.45" y2="1661.8"/>
<line x1="725.45" y1="1827.8" x2="735.45" y2="1827.8"/>
<line x1="725.45" y1="1899.4" x2="735.45" y2="1899.4"/>
<line x1="725.45" y1="1920" x2="735.45" y2="1920"/>
<line x1="776.9" y1="1431.6" x2="776.9" y2="1519.1"/>
<line x1="776.9" y1="1546.5" x2="776.9" y2="1787.9"/>
<line x1="776.9" y1="1869.7" x2="776.9" y2="1959.2"/>
<line x1="771.9" y1="1431.6" x2="781.9" y2="1431.6"/>
<line x1="771.9" y1="1546.5" x2="781.9" y2="1546.5"/>
<line x1="771.9" y1="1608.9" x2="781.9" y2="1608.9"/>
<line x1="771.9" y1="1869.7" x2="781.9" y2="1869.7"/>
<line x1="771.9" y1="1938" x2="781.9" y2="1938"/>
<line x1="811.74" y1="1379.2" x2="811.74" y2="1768.8"/>
<line x1="811.74" y1="1860.6" x2="811.74" y2="1960.2"/>
<line x1="806.74" y1="1379.2" x2="816.74" y2="1379.2"/>
<line x1="806.74" y1="1465.7" x2="816.74" y2="1465.7"/>
<line x1="806.74" y1="1582.4" x2="816.74" y2="1582.4"/>
<line x1="806.74" y1="1860.6" x2="816.74" y2="1860.6"/>
<line x1="806.74" y1="1900.5" x2="816.74" y2="1900.5"/>
<line x1="806.74" y1="1934.8" x2="816.74" y2="1934.8"/>
<line x1="858.19" y1="1265.9" x2="858.19" y2="1410.4"/>
<line x1="858.19" y1="1451.3" x2="858.19" y2="1705.3"/>
<line x1="858.19" y1="1840.1" x2="858.19" y2="1952.8"/>
<line x1="853.19" y1="1265.9" x2="863.19" y2="1265.9"/>
<line x1="853.19" y1="1451.3" x2="863.19" y2="1451.3"/>
<line x1="853.19" y1="1524.4" x2="863.19" y2="1524.4"/>
<line x1="853.19" y1="1840.1" x2="863.19" y2="1840.1"/>
<line x1="853.19" y1="1918.5" x2="863.19" y2="1918.5"/>
<line x1="893.03" y1="1266.9" x2="893.03" y2="1666.7"/>
<line x1="893.03" y1="1868" x2="893.03" y2="1972.9"/>
<line x1="888.03" y1="1266.9" x2="898.03" y2="1266.9"/>
<line x1="888.03" y1="1308.3" x2="898.03" y2="1308.3"/>
<line x1="888.03" y1="1419.5" x2="898.03" y2="1419.5"/>
<line x1="888.03" y1="1868" x2="898.03" y2="1868"/>
<line x1="888.03" y1="1910.8" x2="898.03" y2="1910.8"/>
<line x1="888.03" y1="1949.2" x2="898.03" y2="1949.2"/>
</g>
<g stroke="#000" stroke-width="2.0" fill="none" stroke-linejoin="round">
<polyline points="324.01,1897 370.46,1885.5 405.3,1810.4 451.75,1793.8 486.59,1780.4 533.04,1732.2 567.88,1705.8 614.33,1673.5 649.16,1580.3 695.61,1563.9 730.45,1555.5 776.9,1519.1 811.74,1477.8 858.19,1410.4 893.03,1427.5"/>
<polyline points="324.01,1899 370.46,1904.5 405.3,1860.7 451.75,1864.5 486.59,1845.5 533.04,1854 567.88,1852.4 614.33,1818.3 649.16,1840.9 695.61,1796.4 730.45,1791 776.9,1787.9 811.74,1768.8 858.19,1705.3 893.03,1666.7"/>
<polyline points="324.01,1905 370.46,1918 405.3,1888 451.75,1864.5 486.59,1852.4 533.04,1867.2 567.88,1852.4 614.33,1818.3 649.16,1820.5 695.61,1774.5 730.45,1791 776.9,1749.7 811.74,1713.7 858.19,1698.5 893.03,1608.9"/>
<polyline points="324.01,1900 370.46,1904.5 405.3,1901.4 451.75,1864.5 486.59,1863.3 533.04,1895.2 567.88,1879.3 614.33,1886.6 649.16,1893.8 695.61,1891.8 730.45,1892.4 776.9,1915.7 811.74,1921.4 858.19,1909.4 893.03,1930.6"/>
<polyline points="324.01,1910 370.46,1920.4 405.3,1926.8 451.75,1918.5 486.59,1909.2 533.04,1935.6 567.88,1933.2 614.33,1938.7 649.16,1929.5 695.61,1904.1 730.45,1938 776.9,1959.2 811.74,1960.2 858.19,1952.8 893.03,1972.9"/>
<polyline points="324.01,1912 370.46,1922 405.3,1926.8 451.75,1920 486.59,1916.2 533.04,1943.3 567.88,1939.5 614.33,1944.9 649.16,1945.4 695.61,1931.6 730.45,1936 776.9,1951.7 811.74,1952.8 858.19,1952.8 893.03,1966.6"/>
</g>
<polygon points="324.01,1907.75 328.77,1915.95 319.25,1915.95" fill="none" stroke="#000" stroke-width="2.0" stroke-linejoin="miter"/>
<rect x="319.26" y="1905.25" width="9.5" height="9.5" fill="none" stroke="#000" stroke-width="2.0"/>
<polygon points="324.01,1895.5 329.01,1900 324.01,1904.5 319.01,1900" fill="#000"/>
<polygon points="324.01,1899.5 329.51,1909.5 318.51,1909.5" fill="#000"/>
<rect x="319.01" y="1894" width="10" height="10" fill="#000"/>
<circle cx="324.01" cy="1897" r="4.6" fill="#000"/>
<polygon points="370.46,1917.75 375.22,1925.95 365.7,1925.95" fill="none" stroke="#000" stroke-width="2.0" stroke-linejoin="miter"/>
<rect x="365.71" y="1915.65" width="9.5" height="9.5" fill="none" stroke="#000" stroke-width="2.0"/>
<polygon points="370.46,1900 375.46,1904.5 370.46,1909 365.46,1904.5" fill="#000"/>
<polygon points="370.46,1912.5 375.96,1922.5 364.96,1922.5" fill="#000"/>
<rect x="365.46" y="1899.5" width="10" height="10" fill="#000"/>
<circle cx="370.46" cy="1885.5" r="4.6" fill="#000"/>
<polygon points="405.3,1922.55 410.06,1930.75 400.54,1930.75" fill="none" stroke="#000" stroke-width="2.0" stroke-linejoin="miter"/>
<rect x="400.55" y="1922.05" width="9.5" height="9.5" fill="none" stroke="#000" stroke-width="2.0"/>
<polygon points="405.3,1896.9 410.3,1901.4 405.3,1905.9 400.3,1901.4" fill="#000"/>
<polygon points="405.3,1882.5 410.8,1892.5 399.8,1892.5" fill="#000"/>
<rect x="400.3" y="1855.7" width="10" height="10" fill="#000"/>
<circle cx="405.3" cy="1810.4" r="4.6" fill="#000"/>
<polygon points="451.75,1915.75 456.51,1923.95 446.99,1923.95" fill="none" stroke="#000" stroke-width="2.0" stroke-linejoin="miter"/>
<rect x="447" y="1913.75" width="9.5" height="9.5" fill="none" stroke="#000" stroke-width="2.0"/>
<polygon points="451.75,1860 456.75,1864.5 451.75,1869 446.75,1864.5" fill="#000"/>
<polygon points="451.75,1859 457.25,1869 446.25,1869" fill="#000"/>
<rect x="446.75" y="1859.5" width="10" height="10" fill="#000"/>
<circle cx="451.75" cy="1793.8" r="4.6" fill="#000"/>
<polygon points="486.59,1911.95 491.35,1920.15 481.83,1920.15" fill="none" stroke="#000" stroke-width="2.0" stroke-linejoin="miter"/>
<rect x="481.84" y="1904.45" width="9.5" height="9.5" fill="none" stroke="#000" stroke-width="2.0"/>
<polygon points="486.59,1858.8 491.59,1863.3 486.59,1867.8 481.59,1863.3" fill="#000"/>
<polygon points="486.59,1846.9 492.09,1856.9 481.09,1856.9" fill="#000"/>
<rect x="481.59" y="1840.5" width="10" height="10" fill="#000"/>
<circle cx="486.59" cy="1780.4" r="4.6" fill="#000"/>
<polygon points="533.04,1939.05 537.8,1947.25 528.28,1947.25" fill="none" stroke="#000" stroke-width="2.0" stroke-linejoin="miter"/>
<rect x="528.29" y="1930.85" width="9.5" height="9.5" fill="none" stroke="#000" stroke-width="2.0"/>
<polygon points="533.04,1890.7 538.04,1895.2 533.04,1899.7 528.04,1895.2" fill="#000"/>
<polygon points="533.04,1861.7 538.54,1871.7 527.54,1871.7" fill="#000"/>
<rect x="528.04" y="1849" width="10" height="10" fill="#000"/>
<circle cx="533.04" cy="1732.2" r="4.6" fill="#000"/>
<polygon points="567.88,1935.25 572.63,1943.45 563.12,1943.45" fill="none" stroke="#000" stroke-width="2.0" stroke-linejoin="miter"/>
<rect x="563.12" y="1928.45" width="9.5" height="9.5" fill="none" stroke="#000" stroke-width="2.0"/>
<polygon points="567.88,1874.8 572.88,1879.3 567.88,1883.8 562.88,1879.3" fill="#000"/>
<polygon points="567.88,1846.9 573.38,1856.9 562.38,1856.9" fill="#000"/>
<rect x="562.88" y="1847.4" width="10" height="10" fill="#000"/>
<circle cx="567.88" cy="1705.8" r="4.6" fill="#000"/>
<polygon points="614.33,1940.65 619.09,1948.85 609.57,1948.85" fill="none" stroke="#000" stroke-width="2.0" stroke-linejoin="miter"/>
<rect x="609.58" y="1933.95" width="9.5" height="9.5" fill="none" stroke="#000" stroke-width="2.0"/>
<polygon points="614.33,1882.1 619.33,1886.6 614.33,1891.1 609.33,1886.6" fill="#000"/>
<polygon points="614.33,1812.8 619.83,1822.8 608.83,1822.8" fill="#000"/>
<rect x="609.33" y="1813.3" width="10" height="10" fill="#000"/>
<circle cx="614.33" cy="1673.5" r="4.6" fill="#000"/>
<polygon points="649.16,1941.15 653.92,1949.35 644.4,1949.35" fill="none" stroke="#000" stroke-width="2.0" stroke-linejoin="miter"/>
<rect x="644.41" y="1924.75" width="9.5" height="9.5" fill="none" stroke="#000" stroke-width="2.0"/>
<polygon points="649.16,1889.3 654.16,1893.8 649.16,1898.3 644.16,1893.8" fill="#000"/>
<polygon points="649.16,1815 654.66,1825 643.66,1825" fill="#000"/>
<rect x="644.16" y="1835.9" width="10" height="10" fill="#000"/>
<circle cx="649.16" cy="1580.3" r="4.6" fill="#000"/>
<polygon points="695.61,1927.35 700.37,1935.55 690.85,1935.55" fill="none" stroke="#000" stroke-width="2.0" stroke-linejoin="miter"/>
<rect x="690.86" y="1899.35" width="9.5" height="9.5" fill="none" stroke="#000" stroke-width="2.0"/>
<polygon points="695.61,1887.3 700.61,1891.8 695.61,1896.3 690.61,1891.8" fill="#000"/>
<polygon points="695.61,1769 701.11,1779 690.11,1779" fill="#000"/>
<rect x="690.61" y="1791.4" width="10" height="10" fill="#000"/>
<circle cx="695.61" cy="1563.9" r="4.6" fill="#000"/>
<polygon points="730.45,1931.75 735.21,1939.95 725.69,1939.95" fill="none" stroke="#000" stroke-width="2.0" stroke-linejoin="miter"/>
<rect x="725.7" y="1933.25" width="9.5" height="9.5" fill="none" stroke="#000" stroke-width="2.0"/>
<polygon points="730.45,1887.9 735.45,1892.4 730.45,1896.9 725.45,1892.4" fill="#000"/>
<polygon points="730.45,1785.5 735.95,1795.5 724.95,1795.5" fill="#000"/>
<rect x="725.45" y="1786" width="10" height="10" fill="#000"/>
<circle cx="730.45" cy="1555.5" r="4.6" fill="#000"/>
<polygon points="776.9,1947.45 781.66,1955.65 772.14,1955.65" fill="none" stroke="#000" stroke-width="2.0" stroke-linejoin="miter"/>
<rect x="772.15" y="1954.45" width="9.5" height="9.5" fill="none" stroke="#000" stroke-width="2.0"/>
<polygon points="776.9,1911.2 781.9,1915.7 776.9,1920.2 771.9,1915.7" fill="#000"/>
<polygon points="776.9,1744.2 782.4,1754.2 771.4,1754.2" fill="#000"/>
<rect x="771.9" y="1782.9" width="10" height="10" fill="#000"/>
<circle cx="776.9" cy="1519.1" r="4.6" fill="#000"/>
<polygon points="811.74,1948.55 816.5,1956.75 806.98,1956.75" fill="none" stroke="#000" stroke-width="2.0" stroke-linejoin="miter"/>
<rect x="806.99" y="1955.45" width="9.5" height="9.5" fill="none" stroke="#000" stroke-width="2.0"/>
<polygon points="811.74,1916.9 816.74,1921.4 811.74,1925.9 806.74,1921.4" fill="#000"/>
<polygon points="811.74,1708.2 817.24,1718.2 806.24,1718.2" fill="#000"/>
<rect x="806.74" y="1763.8" width="10" height="10" fill="#000"/>
<circle cx="811.74" cy="1477.8" r="4.6" fill="#000"/>
<polygon points="858.19,1948.55 862.95,1956.75 853.43,1956.75" fill="none" stroke="#000" stroke-width="2.0" stroke-linejoin="miter"/>
<rect x="853.44" y="1948.05" width="9.5" height="9.5" fill="none" stroke="#000" stroke-width="2.0"/>
<polygon points="858.19,1904.9 863.19,1909.4 858.19,1913.9 853.19,1909.4" fill="#000"/>
<polygon points="858.19,1693 863.69,1703 852.69,1703" fill="#000"/>
<rect x="853.19" y="1700.3" width="10" height="10" fill="#000"/>
<circle cx="858.19" cy="1410.4" r="4.6" fill="#000"/>
<polygon points="893.03,1962.35 897.79,1970.55 888.27,1970.55" fill="none" stroke="#000" stroke-width="2.0" stroke-linejoin="miter"/>
<rect x="888.28" y="1968.15" width="9.5" height="9.5" fill="none" stroke="#000" stroke-width="2.0"/>
<polygon points="893.03,1926.1 898.03,1930.6 893.03,1935.1 888.03,1930.6" fill="#000"/>
<polygon points="893.03,1603.4 898.53,1613.4 887.53,1613.4" fill="#000"/>
<rect x="888.03" y="1661.7" width="10" height="10" fill="#000"/>
<circle cx="893.03" cy="1427.5" r="4.6" fill="#000"/>
<rect x="318" y="1905.4" width="11.8" height="11" fill="#000"/>
<rect x="365" y="1914.6" width="10.6" height="9.6" fill="#000"/>
<rect x="929.7" y="1625.8" width="25.8" height="3.2" fill="#000"/><rect x="929.7" y="1901.3" width="25.8" height="3.2" fill="#000"/><rect x="952.3" y="1625.8" width="3.2" height="278.7" fill="#000"/>
<rect x="1003.6" y="1414.2" width="25.7" height="3.2" fill="#000"/><rect x="1003.6" y="1927.2" width="25.7" height="3.2" fill="#000"/><rect x="1026.1" y="1414.2" width="3.2" height="516.2" fill="#000"/>
<rect x="1053.1" y="1414.2" width="25.6" height="3.2" fill="#000"/><rect x="1053.1" y="1970" width="25.6" height="3.2" fill="#000"/><rect x="1075.5" y="1414.2" width="3.2" height="559" fill="#000"/>
<path d="M967.3,1814.4L967.3,1808.4M967.3,1814.4L972.51,1812.08M967.3,1814.4L962.09,1812.08M967.3,1814.4L970.16,1818.98M967.3,1814.4L964.44,1818.98" stroke="#000" stroke-width="2.6" stroke-linecap="round" fill="none"/>
<path d="M1047.6,1759.5L1053.6,1759.5M1047.6,1759.5L1049.92,1764.71M1047.6,1759.5L1049.92,1754.29M1047.6,1759.5L1043.02,1762.36M1047.6,1759.5L1043.02,1756.64" stroke="#000" stroke-width="2.6" stroke-linecap="round" fill="none"/>
<path d="M1047.6,1776.3L1053.6,1776.3M1047.6,1776.3L1049.92,1781.51M1047.6,1776.3L1049.92,1771.09M1047.6,1776.3L1043.02,1779.16M1047.6,1776.3L1043.02,1773.44" stroke="#000" stroke-width="2.6" stroke-linecap="round" fill="none"/>
<path d="M1047.6,1793.1L1053.6,1793.1M1047.6,1793.1L1049.92,1798.31M1047.6,1793.1L1049.92,1787.89M1047.6,1793.1L1043.02,1795.96M1047.6,1793.1L1043.02,1790.24" stroke="#000" stroke-width="2.6" stroke-linecap="round" fill="none"/>
<path d="M1093.2,1760L1099.2,1760M1093.2,1760L1095.52,1765.21M1093.2,1760L1095.52,1754.79M1093.2,1760L1088.62,1762.86M1093.2,1760L1088.62,1757.14" stroke="#000" stroke-width="2.6" stroke-linecap="round" fill="none"/>
<path d="M1093.2,1776.8L1099.2,1776.8M1093.2,1776.8L1095.52,1782.01M1093.2,1776.8L1095.52,1771.59M1093.2,1776.8L1088.62,1779.66M1093.2,1776.8L1088.62,1773.94" stroke="#000" stroke-width="2.6" stroke-linecap="round" fill="none"/>
<path d="M1093.2,1793.6L1099.2,1793.6M1093.2,1793.6L1095.52,1798.81M1093.2,1793.6L1095.52,1788.39M1093.2,1793.6L1088.62,1796.46M1093.2,1793.6L1088.62,1790.74" stroke="#000" stroke-width="2.6" stroke-linecap="round" fill="none"/>
<line x1="989.3" y1="1144.8" x2="1017.6" y2="1144.8" stroke="#000" stroke-width="2"/>
<circle cx="1003.3" cy="1144.8" r="5" fill="#000"/>
<text x="1033.6" y="1151.2" font-size="20.6" textLength="68.29" lengthAdjust="spacingAndGlyphs">Vehicle</text>
<line x1="989.3" y1="1180" x2="1017.6" y2="1180" stroke="#000" stroke-width="2"/>
<rect x="998.3" y="1175" width="10" height="10" fill="#000"/>
<text x="1033.6" y="1186.4" font-size="20.6" textLength="184.35" lengthAdjust="spacingAndGlyphs">ALM30  3m/kg q.d.</text><path transform="translate(1100.96,1186.4) scale(0.01038,-0.01006)" d="M515,0L515,1237L197,1010L197,1180L530,1409L696,1409L696,0Z"/>
<line x1="989.3" y1="1214.7" x2="1017.6" y2="1214.7" stroke="#000" stroke-width="2"/>
<polygon points="1003.3,1209.2 1008.8,1219.2 997.8,1219.2" fill="#000"/>
<text x="1033.6" y="1221.1" font-size="20.6" textLength="208.2" lengthAdjust="spacingAndGlyphs">ALM30   0mg/kg q.d.</text><path transform="translate(1101.02,1221.1) scale(0.01039,-0.01006)" d="M515,0L515,1237L197,1010L197,1180L530,1409L696,1409L696,0Z"/><path transform="translate(1118.77,1221.1) scale(0.01039,-0.01006)" d="M515,0L515,1237L197,1010L197,1180L530,1409L696,1409L696,0Z"/>
<line x1="991.8" y1="1248.3" x2="1019.1" y2="1248.3" stroke="#000" stroke-width="2"/>
<polygon points="1005.2,1243 1010,1248.3 1005.2,1253.6 1000.4,1248.3" fill="#000"/>
<text x="1034.5" y="1254.7" font-size="20.6" textLength="209.16" lengthAdjust="spacingAndGlyphs">tamoxifen 5mg/kg q.d.</text>
<line x1="989.3" y1="1284.5" x2="1017.6" y2="1284.5" stroke="#000" stroke-width="2"/>
<rect x="998.35" y="1279.15" width="10.7" height="10.7" fill="none" stroke="#000" stroke-width="2.1"/>
<text x="1033.6" y="1290.9" font-size="20.6" textLength="367" lengthAdjust="spacingAndGlyphs">ALM30  3mg/kg tamoxifen 5mg/kg q.d.</text><path transform="translate(1100.44,1290.9) scale(0.01030,-0.01006)" d="M515,0L515,1237L197,1010L197,1180L530,1409L696,1409L696,0Z"/>
<line x1="989.3" y1="1319.4" x2="1017.6" y2="1319.4" stroke="#000" stroke-width="2"/>
<polygon points="1003.7,1313.9 1008.47,1324.76 998.93,1324.76" fill="none" stroke="#000" stroke-width="2.1" stroke-linejoin="miter"/>
<text x="1033.6" y="1325.8" font-size="20.6" textLength="379.47" lengthAdjust="spacingAndGlyphs">ALM30   0mg/kg tamoxifen 5mg/kg q.d.</text><path transform="translate(1100.57,1325.8) scale(0.01032,-0.01006)" d="M515,0L515,1237L197,1010L197,1180L530,1409L696,1409L696,0Z"/><path transform="translate(1118.19,1325.8) scale(0.01032,-0.01006)" d="M515,0L515,1237L197,1010L197,1180L530,1409L696,1409L696,0Z"/>
</g>
</svg>
</body></html>
